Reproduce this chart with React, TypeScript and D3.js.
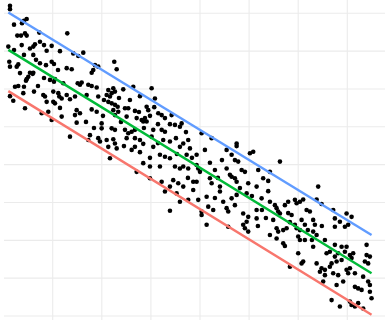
import React from 'react';
import * as d3 from 'd3';

// scatter values (x, y in data units)
const pointX = [
  1.30, 1.30, 2.12, 4.15, 4.70, 3.75, 2.79, 3.54, 4.36, 4.70, 7.27, 0.96, 3.69, 5.37, 6.05, 6.39, 7.41, 8.23, 9.79, 8.77,
  11.48, 1.16, 1.30, 2.67, 2.99, 4.15, 6.05, 7.41, 8.63, 9.79, 10.26, 5.37, 5.92, 5.03, 4.70, 4.56, 6.05, 9.45, 10.26, 10.46,
  12.15, 2.32, 2.99, 4.15, 4.01, 1.30, 1.97, 6.19, 8.08, 8.43, 10.12, 11.14, 11.34, 11.83, 10.12, 10.46, 8.77, 4.36, 7.76, 9.10,
  9.79, 11.83, 12.97, 2.12, 6.60, 8.23, 7.00, 3.34, 11.08,
  14.19, 15.21, 16.23, 12.85, 13.87, 18.61, 19.28, 18.26, 22.54, 23.03, 17.94, 15.09, 15.56, 15.90, 17.25, 17.94, 18.96, 21.32, 22.34, 22.68,
  22.01, 20.99, 21.66, 24.37, 26.41, 30.15, 12.85, 13.52, 14.54, 16.92, 19.28, 21.32, 22.01, 22.68, 23.23, 22.34, 23.35, 24.72, 25.39, 26.75,
  29.13, 29.46, 30.68, 30.82, 14.88, 15.56, 14.54, 17.94, 18.96, 22.68, 25.06, 27.10, 28.12, 28.79, 28.44, 29.13, 31.50, 32.19, 32.86, 34.22,
  30.48, 32.19, 32.86, 34.90, 36.26, 35.91, 14.88, 19.97, 19.97, 22.01, 22.68, 24.72, 25.39, 26.08, 26.75, 25.06, 26.75, 27.77, 30.15, 13.52,
  17.59, 17.25, 19.28, 19.63, 20.99, 21.32, 22.34, 22.68, 23.03, 26.08, 26.75, 30.48, 31.84, 32.86, 35.91, 36.59, 37.60, 37.95, 21.66, 32.51,
  33.88, 28.44, 33.88, 37.28,
  20.44, 23.50, 20.24, 23.90, 27.57, 29.81, 28.58, 31.44, 33.88, 37.14, 35.10, 31.44, 24.51, 27.77, 29.81, 35.30, 38.36, 25.73, 27.77, 16.78,
  18.41, 11.48,
  28.44, 29.81, 31.84, 34.90, 35.91, 36.59, 37.60, 27.10, 29.81, 32.19, 34.55, 35.57, 38.62, 32.86, 33.88, 35.24, 36.59, 38.62, 35.91, 37.60,
  33.88, 40.33, 42.37, 37.54,
  47.46, 47.46, 39.31, 39.31, 39.64, 39.99, 39.31, 42.02, 45.42, 46.44, 47.11, 47.78, 50.17, 50.84, 45.42, 46.09, 46.44, 47.11, 48.48, 49.15,
  47.46, 49.82, 51.86, 52.87, 54.24, 56.28, 42.02, 42.37, 44.06, 44.06, 44.73, 46.44, 47.46, 49.50, 51.53, 52.55, 54.24, 39.64, 41.35, 41.68,
  45.42, 45.75, 48.80, 49.82, 51.53, 40.33, 40.33, 42.69, 55.26, 55.60, 55.93, 56.28, 54.91, 57.96, 59.33, 59.68, 60.35, 61.02, 58.66, 60.69,
  61.71, 62.38, 64.07, 41.35, 45.75, 48.80, 49.50, 49.15, 49.82, 51.53, 55.60, 55.93, 56.95, 57.64, 55.60, 56.95, 59.33, 59.68, 60.35, 61.36,
  63.05, 60.00, 60.35, 61.36, 63.05, 63.75, 64.76, 53.89, 53.89, 54.24, 57.29, 57.96, 63.05, 63.40, 63.75,
  41.00, 43.04, 44.47, 43.65, 48.13, 50.57, 52.61, 51.79, 53.42, 57.29, 58.31, 61.97, 62.79, 64.82, 65.44, 47.11, 43.04,
  67.13, 67.47, 67.47, 68.49, 69.85, 69.51, 70.18, 70.87, 67.47, 68.84, 69.85, 73.93,
  60.00, 61.02, 60.69, 58.31, 63.75, 64.76, 65.44, 64.42, 65.44, 66.45, 66.80, 65.78, 66.45, 68.14, 69.51, 70.53, 70.87, 71.20, 68.84, 67.82,
  67.47, 73.93, 74.60, 74.25, 73.58, 65.09, 67.13, 68.14, 69.85, 70.18, 70.53, 71.55, 73.23, 74.25, 74.60, 67.82, 69.16, 71.55, 72.21, 72.91,
  74.60, 74.94, 66.80, 68.49, 70.53, 70.87, 71.55, 72.21, 73.23,
];

const pointY = [
  82.0, 81.1, 77.0, 78.0, 78.5, 77.4, 74.1, 74.1, 74.7, 74.1, 74.9, 71.2, 71.6, 70.7, 71.2, 71.8, 72.5, 71.6, 71.4, 70.1,
  70.0, 67.2, 65.9, 65.9, 66.5, 69.0, 69.0, 66.8, 66.3, 67.2, 66.6, 64.3, 64.0, 63.2, 62.6, 62.2, 64.3, 62.4, 61.9, 62.6,
  61.5, 60.6, 60.8, 60.6, 58.9, 58.1, 56.9, 59.3, 58.4, 58.0, 59.3, 58.9, 58.0, 57.5, 56.6, 56.2, 56.6, 54.9, 53.6, 54.0,
  51.8, 52.7, 74.7, 70.3, 67.7, 62.9, 60.8, 64.2, 65.0,
  69.4, 68.7, 69.6, 65.5, 65.2, 66.3, 65.9, 65.0, 67.2, 65.2, 64.3, 61.5, 61.1, 61.7, 61.1, 60.8, 60.4, 59.7, 60.2, 59.3,
  58.9, 58.4, 58.0, 59.9, 60.6, 60.2, 58.4, 57.3, 58.0, 58.4, 58.0, 56.6, 56.2, 55.8, 55.3, 54.4, 54.0, 54.9, 54.9, 54.2,
  55.3, 54.4, 55.2, 57.5, 54.4, 53.6, 53.1, 54.6, 54.0, 53.1, 52.7, 52.3, 51.8, 52.3, 51.4, 51.4, 53.6, 53.1, 52.3, 53.1,
  49.2, 49.2, 48.7, 50.5, 50.9, 50.0, 51.1, 50.9, 49.6, 49.6, 49.2, 49.2, 48.3, 48.7, 49.2, 47.0, 47.0, 46.5, 47.4, 47.4,
  47.8, 46.5, 47.0, 46.1, 46.5, 44.7, 46.7, 45.6, 44.3, 43.9, 44.7, 44.7, 42.6, 42.1, 44.7, 45.6, 46.5, 44.3, 41.7, 46.5,
  46.1, 45.5, 41.7, 42.6,
  57.1, 57.6, 52.9, 51.3, 53.9, 52.9, 49.7, 50.7, 50.7, 48.6, 47.0, 45.7, 44.9, 43.3, 41.8, 42.8, 41.8, 57.1, 58.1, 51.3,
  49.7, 55.0,
  40.4, 39.5, 39.5, 39.5, 39.0, 39.5, 39.0, 38.1, 36.4, 35.5, 35.9, 35.1, 35.5, 32.9, 34.2, 32.4, 34.2, 33.3, 30.2, 30.7,
  27.8, 48.3, 47.0, 36.5,
  45.6, 44.9, 42.6, 39.9, 39.0, 38.1, 35.5, 40.5, 43.9, 42.6, 41.2, 40.8, 43.0, 43.4, 39.0, 37.3, 36.8, 36.4, 38.6, 38.1,
  35.5, 35.1, 38.6, 36.4, 38.1, 40.8, 36.4, 35.1, 34.2, 32.9, 30.2, 31.1, 32.0, 32.4, 34.2, 31.1, 30.2, 30.7, 31.5, 28.9,
  28.5, 27.6, 27.1, 26.2, 28.0, 27.6, 26.7, 28.0, 29.3, 28.5, 27.6, 27.1, 25.4, 30.2, 30.7, 29.8, 30.2, 30.8, 26.7, 25.4,
  28.0, 27.6, 34.2, 24.1, 23.6, 24.1, 24.9, 23.2, 22.3, 25.8, 23.2, 22.3, 22.7, 23.2, 20.5, 19.2, 24.1, 23.2, 22.7, 24.1,
  22.3, 21.0, 20.1, 20.1, 18.3, 30.8, 29.6, 33.0, 35.7, 21.4, 18.5, 27.2, 25.4, 24.1, 21.4,
  43.9, 38.6, 41.2, 36.5, 33.8, 31.7, 28.0, 23.8, 25.9, 29.3, 24.8, 22.7, 20.1, 23.8, 20.1, 29.3, 31.2,
  28.0, 25.8, 23.6, 24.9, 27.1, 23.6, 24.1, 26.2, 18.8, 18.3, 18.3, 18.8,
  16.6, 14.4, 13.9, 13.0, 13.9, 12.6, 12.2, 11.7, 10.8, 13.0, 13.9, 16.6, 17.0, 16.6, 17.0, 16.1, 15.3, 16.6, 14.8, 14.4,
  15.7, 16.1, 15.7, 13.9, 14.4, 9.1, 11.3, 10.8, 12.2, 11.3, 12.6, 11.3, 10.4, 9.1, 8.2, 8.2, 9.1, 7.7, 7.3, 6.9,
  6.4, 4.7, 4.2, 2.5, 3.8, 2.9, 2.5, 3.4, 2.0,
];

// quantile regression lines: y = intercept + slope * x
const quantiles = [0.1, 0.5, 0.9];
const intercepts = [60.2, 71.1, 81.0];
const slopes = [-0.799, -0.798, -0.795];
const lineColors = ['#F8766D', '#00BA38', '#619CFF'];

const gridX = [10, 20, 30, 40, 50, 60, 70];
const gridY = [0, 10, 20, 30, 40, 50, 60, 70, 80];

export default function App() {
  const width = 385;
  const height = 320;
  const panelLeft = 4;

  const x = d3.scaleLinear().domain([0, 70]).range([3.6, 347.3]);
  const y = d3.scaleLinear().domain([0, 80]).range([316, 13.3]);

  const points = pointX.map((v, i) => ({ x: v, y: pointY[i] }));
  const xExtent = d3.extent(pointX) as [number, number];

  const line = d3.line<[number, number]>()
    .x(d => x(d[0]))
    .y(d => y(d[1]));

  return (
    <svg width={width} height={height}
      style={{ position: 'fixed', left: 0, top: 0, background: '#fff' }}>
      <g className="grid">
        {gridY.map(t => (
          <line key={'h' + t} x1={panelLeft} x2={width} y1={y(t)} y2={y(t)}
            stroke="#ebebeb" strokeWidth={1.1} />
        ))}
        {gridX.map(t => (
          <line key={'v' + t} x1={x(t)} x2={x(t)} y1={0} y2={height}
            stroke="#ebebeb" strokeWidth={1.1} />
        ))}
      </g>
      <g className="points">
        {points.map((p, i) => (
          <circle key={i} cx={x(p.x)} cy={y(p.y)} r={2.3} fill="#000" />
        ))}
      </g>
      <g className="quantiles">
        {quantiles.map((q, i) => {
          const f = (v: number) => intercepts[i] + slopes[i] * v;
          const d = line([[xExtent[0], f(xExtent[0])], [xExtent[1], f(xExtent[1])]]);
          return <path key={q} d={d || ''} fill="none" stroke={lineColors[i]} strokeWidth={2.4} />;
        })}
      </g>
    </svg>
  );
}
